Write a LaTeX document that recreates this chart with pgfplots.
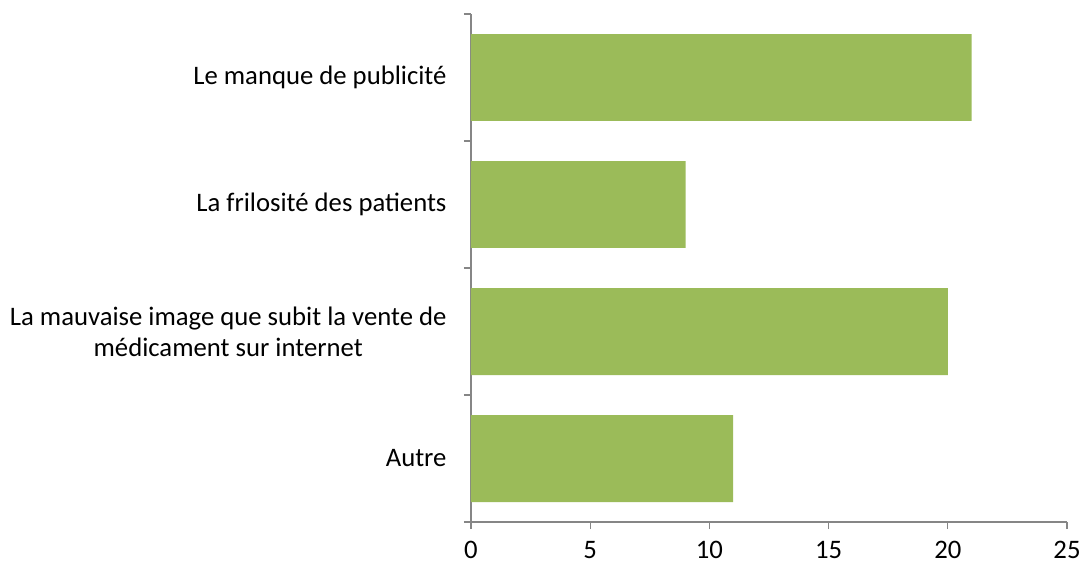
\documentclass[border=0pt]{standalone}
\usepackage{pgfplots}
\pgfplotsset{compat=1.18}
\usepackage{fontspec}
\setmainfont{Carlito}
\definecolor{bargreen}{HTML}{9BBB59}
\definecolor{axgray}{HTML}{868686}
\begin{document}
\begin{tikzpicture}
\path[use as bounding box] (-471pt,-46pt) rectangle (613pt,522pt);
\begin{axis}[
  at={(0pt,0pt)}, anchor=south west,
  scale only axis, width=596pt, height=508pt,
  xmin=0, xmax=25, ymin=-0.5, ymax=3.5,
  axis lines=left,
  axis line style={-, axgray, line width=1.2pt},
  xtick={0,5,10,15,20,25},
  ytick={0,1,2,3},
  yticklabels={Autre, {La mauvaise image que subit la vente de\\médicament sur internet}, La frilosité des patients, Le manque de publicité},
  minor ytick={-0.5,0.5,1.5,2.5,3.5},
  tick align=outside,
  major tick length=7pt, minor tick length=7pt,
  major y tick style={draw=none},
  minor y tick style={axgray, line width=1.2pt},
  major x tick style={axgray, line width=1.2pt},
  tick label style={font=\fontsize{26.7}{31}\selectfont, text=black},
  yticklabel style={align=center, xshift=-14pt},
  xticklabel style={inner sep=0pt, yshift=-12pt},
  /pgf/number format/assume math mode=true,
  xbar, bar width=0.685,
  clip=false,
]
\addplot[fill=bargreen, draw=none] coordinates {(11,0) (20,1) (9,2) (21,3)};
\end{axis}
\end{tikzpicture}
\end{document}
